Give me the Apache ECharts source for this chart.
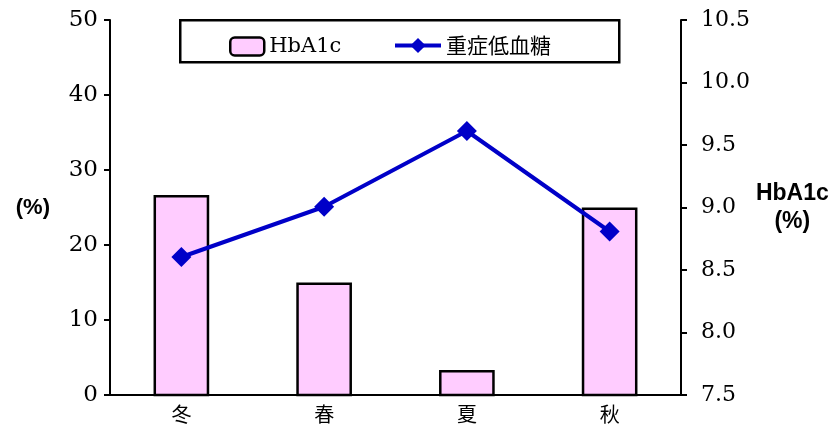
<!DOCTYPE html>
<html>
<head>
<meta charset="utf-8">
<script src="https://cdn.jsdelivr.net/npm/echarts@6/dist/echarts.min.js"></script>
<style>
  html, body { margin: 0; padding: 0; background: #fff; }
  #chart { width: 832px; height: 428px; }
</style>
</head>
<body>
<div id="chart"></div>
<script>
// Seasons on the category axis
const seasons = ['冬', '春', '夏', '秋'];
// HbA1c (%) per season, right axis
const hba1c = [9.1, 8.4, 7.7, 9.0];
// Share of severe hypoglycaemia (%) per season, left axis
const severeHypo = [18.4, 25.1, 35.2, 21.8];

const leftMin = 0, leftMax = 50, leftStep = 10;
const rightMin = 7.5, rightMax = 10.5, rightStep = 0.5;

const serif = '"DejaVu Serif", "Liberation Serif", serif';
const sans = '"Liberation Sans", Arial, sans-serif';
const cjk = '"Noto Sans CJK JP", sans-serif';
const blue = '#0000c8';

const chart = echarts.init(document.getElementById('chart'));

chart.setOption({
  animation: false,
  backgroundColor: '#ffffff',
  grid: { left: 110, right: 151, top: 20, bottom: 33, containLabel: false },
  graphic: [{
    type: 'rect',
    left: 179, top: 19,
    shape: { width: 439, height: 42 },
    style: { fill: '#ffffff', stroke: '#000000', lineWidth: 2.5 },
    z: 5
  }],
  legend: [{
    data: ['HbA1c'],
    left: 224, top: 31,
    itemWidth: 34, itemHeight: 18,
    itemStyle: { borderWidth: 2.5 },
    textStyle: { fontFamily: serif, fontSize: 21, color: '#000' },
    z: 10
  }, {
    data: ['重症低血糖'],
    left: 388, top: 30,
    itemWidth: 46, itemHeight: 19, itemGap: 0,
    lineStyle: { width: 4 },
    textStyle: { fontFamily: cjk, fontSize: 21, color: '#000' },
    z: 10
  }],
  xAxis: {
    type: 'category',
    data: seasons,
    axisLine: { lineStyle: { color: '#000', width: 2 } },
    axisTick: { show: false },
    axisLabel: { color: '#000', fontFamily: cjk, fontSize: 20, margin: 9 }
  },
  yAxis: [{
    type: 'value',
    min: leftMin, max: leftMax, interval: leftStep,
    name: '(%)',
    nameLocation: 'middle',
    nameRotate: 0,
    nameGap: 60,
    nameTextStyle: { fontFamily: sans, fontWeight: 'bold', fontSize: 22, color: '#000', align: 'right' },
    axisLine: { show: true, lineStyle: { color: '#000', width: 2 } },
    axisTick: { show: true, length: 6, lineStyle: { color: '#000', width: 2 } },
    axisLabel: { color: '#000', fontFamily: serif, fontSize: 23, margin: 12 },
    splitLine: { show: false }
  }, {
    type: 'value',
    position: 'right',
    min: rightMin, max: rightMax, interval: rightStep,
    name: 'HbA1c\n(%)',
    nameLocation: 'middle',
    nameRotate: 0,
    nameGap: 106,
    nameTextStyle: { fontFamily: sans, fontWeight: 'bold', fontSize: 23, lineHeight: 28, color: '#000', align: 'center' },
    axisLine: { show: true, lineStyle: { color: '#000', width: 2 } },
    axisTick: { show: true, length: 6, lineStyle: { color: '#000', width: 2 } },
    axisLabel: {
      color: '#000', fontFamily: serif, fontSize: 22, margin: 20,
      formatter: v => v.toFixed(1)
    },
    splitLine: { show: false }
  }],
  series: [{
    name: 'HbA1c',
    type: 'bar',
    yAxisIndex: 1,
    data: hba1c,
    barWidth: '39%',
    clip: true,
    itemStyle: { color: '#ffccff', borderColor: '#000', borderWidth: 2.5 }
  }, {
    name: '重症低血糖',
    type: 'line',
    yAxisIndex: 0,
    data: severeHypo,
    symbol: 'diamond',
    symbolSize: 20,
    lineStyle: { color: blue, width: 4 },
    itemStyle: { color: blue }
  }]
});
</script>
</body>
</html>
